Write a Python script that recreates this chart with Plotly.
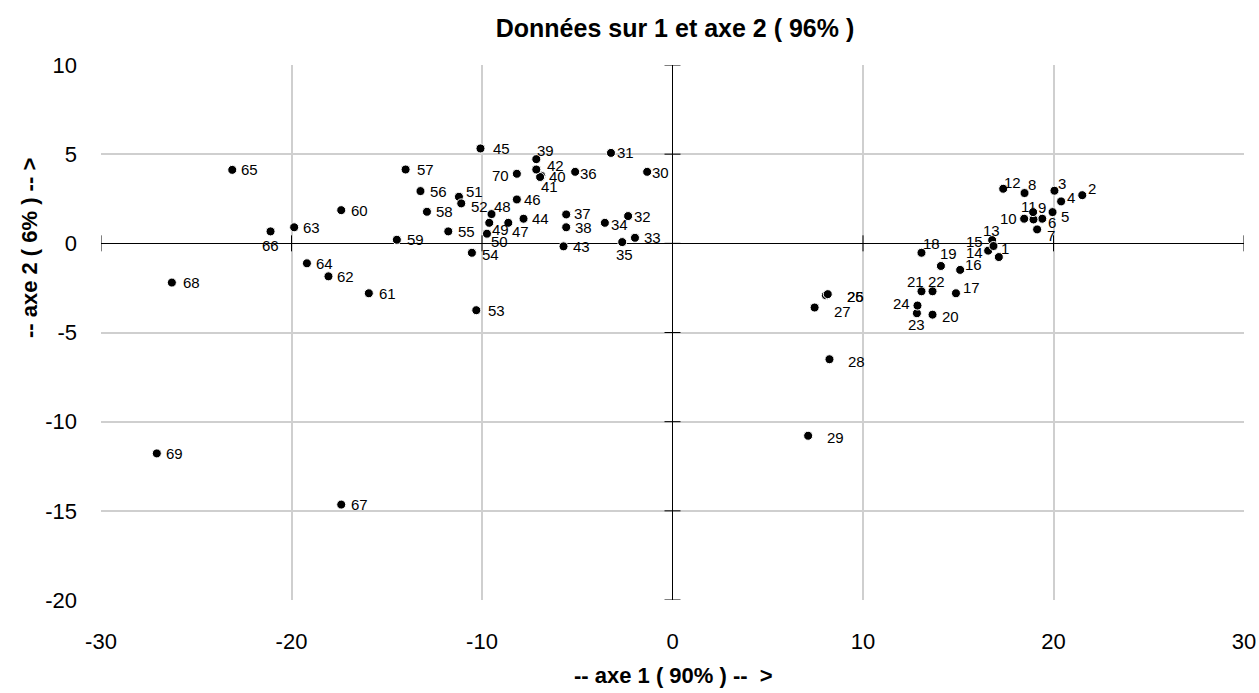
import plotly.graph_objects as go

labels = [str(i) for i in range(1, 71)]
axe1 = [17.13, 21.51, 20.05, 20.40, 19.95, 19.41, 19.14, 18.48, 18.95, 18.46,
        18.93, 17.36, 16.78, 16.57, 16.85, 15.10, 14.88, 13.07, 14.09, 13.65,
        13.07, 13.65, 12.83, 12.86, 8.05, 8.15, 7.46, 8.24, 7.12, -1.33,
        -3.23, -2.33, -1.97, -3.55, -2.64, -5.11, -5.58, -5.58, -7.15, -6.89,
        -6.95, -7.15, -5.72, -7.82, -10.08, -8.17, -8.62, -9.50, -9.62, -9.74,
        -11.21, -11.09, -10.30, -10.53, -11.77, -13.23, -14.01, -12.89, -14.47, -17.39,
        -15.94, -18.06, -19.86, -19.19, -23.11, -21.10, -17.39, -26.28, -27.07, -8.17]
axe2 = [-0.77, 2.70, 2.95, 2.35, 1.75, 1.38, 0.78, 2.82, 1.34, 1.38,
        1.75, 3.06, 0.18, -0.41, -0.15, -1.49, -2.80, -0.53, -1.27, -4.00,
        -2.69, -2.69, -3.92, -3.49, -2.91, -2.85, -3.60, -6.50, -10.79, 4.01,
        5.07, 1.53, 0.31, 1.15, 0.07, 4.01, 1.62, 0.90, 4.72, 3.79,
        3.72, 4.14, -0.17, 1.38, 5.32, 2.46, 1.15, 1.64, 1.15, 0.54,
        2.61, 2.24, -3.75, -0.53, 0.67, 2.93, 4.14, 1.77, 0.20, 1.86,
        -2.80, -1.85, 0.90, -1.12, 4.12, 0.67, -14.65, -2.20, -11.78, 3.90]

x_ticks = [-30, -20, -10, 0, 10, 20, 30]
x_tick_text = ["-30", "-20", "-10", "0", "10", "20", "30"]
y_ticks = [-20, -15, -10, -5, 0, 5, 10]
y_tick_text = ["-20", "-15", "-10", "-5", "0", "5", "10"]

title = "Données sur 1 et axe 2 ( 96% )"
x_title = "-- axe 1 ( 90% ) --\u00a0\u00a0>"
y_title = "-- axe 2 ( 6% ) -- >"

# label placement style: anchor, pixel offset x, pixel offset y (down positive)
label_style = {
    "45": ("l", 12, 0), "39": ("l", 0, -9), "42": ("l", 10, -4), "40": ("l", 7, 1),
    "41": ("l", 0, 10), "31": ("l", 5, 0), "36": ("l", 4, 2), "30": ("l", 4, 1),
    "70": ("r", -7, 2), "57": ("l", 10, 0), "56": ("l", 9, 0), "51": ("l", 6, -5),
    "52": ("l", 9, 3), "46": ("l", 6, 0), "48": ("l", 1, -8), "58": ("l", 8, 0),
    "37": ("l", 7, -1), "32": ("l", 5, 0), "34": ("l", 5, 2), "44": ("l", 7, 0),
    "47": ("l", 3, 9), "49": ("l", 2, 7), "38": ("l", 8, 0), "55": ("l", 9, 0),
    "50": ("l", 3, 8), "59": ("l", 9, 0), "33": ("l", 8, 0), "35": ("c", 2, 12),
    "43": ("l", 8, 0), "54": ("l", 9, 2), "53": ("l", 11, 0),
    "65": ("l", 8, 0), "60": ("l", 9, 0), "63": ("l", 8, 0), "66": ("c", 0, 14),
    "64": ("l", 8, 0), "62": ("l", 8, 0), "61": ("l", 9, 0), "68": ("l", 10, 0),
    "69": ("l", 8, 0), "67": ("l", 9, 0),
    "12": ("l", 0, -6), "8": ("l", 2, -9), "3": ("l", 3, -7), "2": ("l", 5, -7),
    "4": ("l", 5, -4), "11": ("l", -13, -6), "9": ("l", 3, -12), "10": ("r", -6, 0),
    "6": ("l", 5, 4), "5": ("l", 7, 4), "7": ("l", 9, 6), "13": ("l", -10, -10),
    "15": ("r", -9, -5), "14": ("r", -4, 2), "1": ("l", 1, -9), "18": ("l", 1, -9),
    "19": ("l", -2, -12), "16": ("l", 4, -5), "21": ("l", -15, -10), "22": ("l", -6, -10),
    "17": ("l", 6, -6), "24": ("r", -6, -2), "23": ("c", 0, 11), "20": ("l", 8, 2),
    "25": ("l", 20, 1), "26": ("l", 18, 2), "27": ("l", 18, 4), "28": ("l", 18, 2),
    "29": ("l", 18, 2),
}

font_fam = "Arial, Liberation Sans, sans-serif"

fig = go.Figure()
fig.add_trace(go.Scatter(
    x=axe1, y=axe2, text=labels, mode="markers",
    marker=dict(color="black", size=9, line=dict(color="white", width=1)),
    hoverinfo="text", showlegend=False,
))

annotations = []
anchor_map = {"l": "left", "r": "right", "c": "center"}
for lab, xv, yv in zip(labels, axe1, axe2):
    a, dx, dy = label_style.get(lab, ("l", 8, 0))
    annotations.append(dict(
        x=xv, y=yv, xref="x", yref="y", text=lab, showarrow=False,
        xanchor=anchor_map[a], yanchor="middle", xshift=dx, yshift=-dy,
        borderpad=0, font=dict(family=font_fam, size=15, color="black")))

for xv in x_ticks:
    fig.add_shape(type="line", xref="x", yref="y", x0=xv, x1=xv,
                  ysizemode="pixel", yanchor=0, y0=-8, y1=8,
                  line=dict(color="black", width=1))
for yv in y_ticks:
    fig.add_shape(type="line", xref="x", yref="y", y0=yv, y1=yv,
                  xsizemode="pixel", xanchor=0, x0=-8, x1=8,
                  line=dict(color="black", width=1))

annotations += [
    dict(text="<b>" + x_title + "</b>", xref="paper", yref="paper", x=0.501, y=-0.142,
         xanchor="center", yanchor="middle", showarrow=False,
         font=dict(family=font_fam, size=22, color="black")),
    dict(text="<b>" + y_title + "</b>", xref="paper", yref="paper", x=-0.062, y=0.658,
         xanchor="center", yanchor="middle", showarrow=False, textangle=-90,
         font=dict(family=font_fam, size=22, color="black")),
]

fig.update_layout(
    width=1259, height=693,
    margin=dict(l=101, r=15, t=65, b=93),
    paper_bgcolor="white", plot_bgcolor="white",
    title=dict(text="<b>" + title + "</b>", x=675 / 1259, xanchor="center", y=1 - 28 / 693,
               yanchor="middle", font=dict(family=font_fam, size=25, color="black")),
    xaxis=dict(range=[-30, 30], tickvals=x_ticks, ticktext=x_tick_text, showgrid=True,
               gridcolor="#cfcfcf", gridwidth=1.5, zeroline=True, zerolinecolor="black",
               zerolinewidth=1, showline=False, ticks="", ticklabelstandoff=26,
               automargin=False, tickfont=dict(family=font_fam, size=22, color="black")),
    yaxis=dict(range=[-20, 10], tickvals=y_ticks, ticktext=y_tick_text, showgrid=True,
               gridcolor="#cfcfcf", gridwidth=1.5, zeroline=True, zerolinecolor="black",
               zerolinewidth=1, showline=False, ticks="", ticklabelstandoff=23,
               automargin=False, tickfont=dict(family=font_fam, size=22, color="black")),
    annotations=annotations,
)

fig.write_html(
    "out.html",
    config={"displayModeBar": False},
    post_script="document.body.style.margin='0';document.body.style.overflow='hidden';"
                "document.documentElement.style.overflow='hidden';",
)
